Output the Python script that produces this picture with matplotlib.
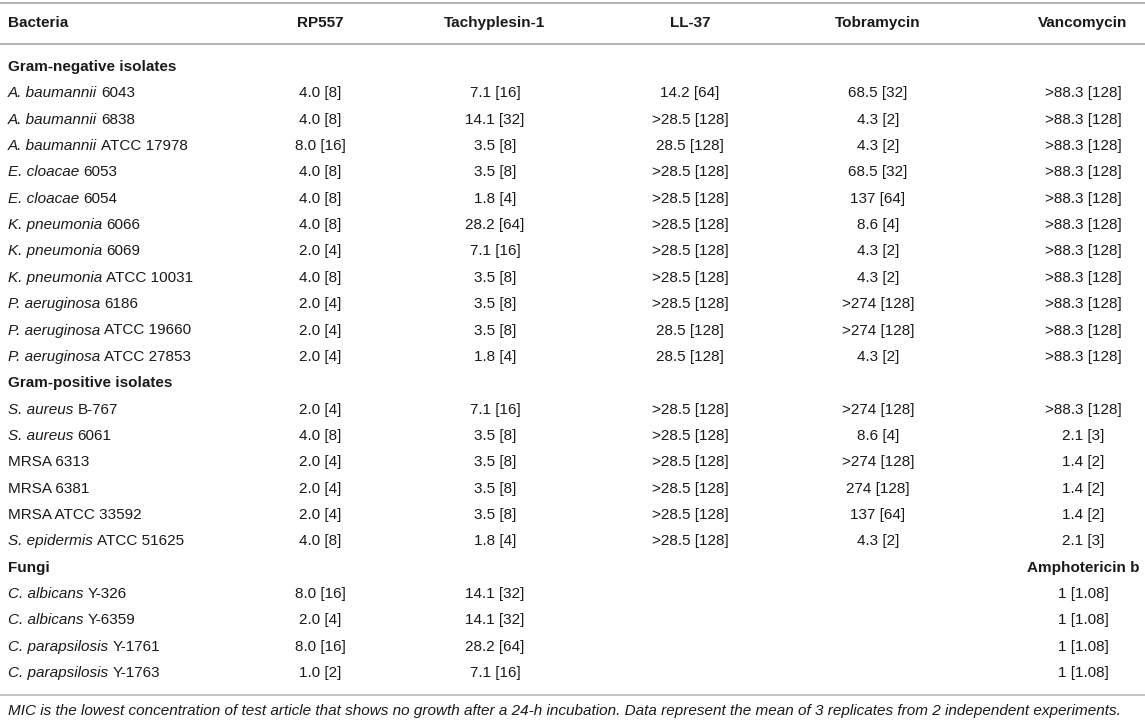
import matplotlib.pyplot as plt

# Column headers of the MIC table
columns = ['Bacteria', 'RP557', 'Tachyplesin-1', 'LL-37', 'Tobramycin', 'Vancomycin']

# Strains: italic species part and plain strain part, grouped
gram_neg_species = ['A. baumannii', 'A. baumannii', 'A. baumannii', 'E. cloacae', 'E. cloacae',
                    'K. pneumonia', 'K. pneumonia', 'K. pneumonia', 'P. aeruginosa',
                    'P. aeruginosa', 'P. aeruginosa']
gram_neg_strain = ['6043', '6838', 'ATCC 17978', '6053', '6054', '6066', '6069', 'ATCC 10031',
                   '6186', 'ATCC 19660', 'ATCC 27853']
gram_neg_rp557 = ['4.0 [8]', '4.0 [8]', '8.0 [16]', '4.0 [8]', '4.0 [8]', '4.0 [8]', '2.0 [4]',
                  '4.0 [8]', '2.0 [4]', '2.0 [4]', '2.0 [4]']
gram_neg_tachy = ['7.1 [16]', '14.1 [32]', '3.5 [8]', '3.5 [8]', '1.8 [4]', '28.2 [64]',
                  '7.1 [16]', '3.5 [8]', '3.5 [8]', '3.5 [8]', '1.8 [4]']
gram_neg_ll37 = ['14.2 [64]', '>28.5 [128]', '28.5 [128]', '>28.5 [128]', '>28.5 [128]',
                 '>28.5 [128]', '>28.5 [128]', '>28.5 [128]', '>28.5 [128]', '28.5 [128]',
                 '28.5 [128]']
gram_neg_tobra = ['68.5 [32]', '4.3 [2]', '4.3 [2]', '68.5 [32]', '137 [64]', '8.6 [4]',
                  '4.3 [2]', '4.3 [2]', '>274 [128]', '>274 [128]', '4.3 [2]']
gram_neg_vanco = ['>88.3 [128]'] * 11

gram_pos_species = ['S. aureus', 'S. aureus', '', '', '', 'S. epidermis']
gram_pos_strain = ['B-767', '6061', 'MRSA 6313', 'MRSA 6381', 'MRSA ATCC 33592', 'ATCC 51625']
gram_pos_rp557 = ['2.0 [4]', '4.0 [8]', '2.0 [4]', '2.0 [4]', '2.0 [4]', '4.0 [8]']
gram_pos_tachy = ['7.1 [16]', '3.5 [8]', '3.5 [8]', '3.5 [8]', '3.5 [8]', '1.8 [4]']
gram_pos_ll37 = ['>28.5 [128]'] * 6
gram_pos_tobra = ['>274 [128]', '8.6 [4]', '>274 [128]', '274 [128]', '137 [64]', '4.3 [2]']
gram_pos_vanco = ['>88.3 [128]', '2.1 [3]', '1.4 [2]', '1.4 [2]', '1.4 [2]', '2.1 [3]']

fungi_species = ['C. albicans', 'C. albicans', 'C. parapsilosis', 'C. parapsilosis']
fungi_strain = ['Y-326', 'Y-6359', 'Y-1761', 'Y-1763']
fungi_rp557 = ['8.0 [16]', '2.0 [4]', '8.0 [16]', '1.0 [2]']
fungi_tachy = ['14.1 [32]', '14.1 [32]', '28.2 [64]', '7.1 [16]']
fungi_ll37 = ['', '', '', '']
fungi_tobra = ['', '', '', '']
fungi_ampho = ['1 [1.08]'] * 4

groups = [
    ('Gram-negative isolates', '', gram_neg_species, gram_neg_strain,
     [gram_neg_rp557, gram_neg_tachy, gram_neg_ll37, gram_neg_tobra, gram_neg_vanco]),
    ('Gram-positive isolates', '', gram_pos_species, gram_pos_strain,
     [gram_pos_rp557, gram_pos_tachy, gram_pos_ll37, gram_pos_tobra, gram_pos_vanco]),
    ('Fungi', 'Amphotericin b', fungi_species, fungi_strain,
     [fungi_rp557, fungi_tachy, fungi_ll37, fungi_tobra, fungi_ampho]),
]

footnote = ('MIC is the lowest concentration of test article that shows no growth after a '
            '24-h incubation. Data represent the mean of 3 replicates from 2 independent experiments.')

W, H = 1145, 724
TEXT = '#1a1a1a'
RULE = '#b4b4b4'
FS = 11
col_x = [320, 495, 690, 878, 1083]
left_x = 8
header_y = 23
first_row_y = 67
row_step = 26.35

plt.rcParams['font.family'] = ['Liberation Sans', 'DejaVu Sans']

fig = plt.figure(figsize=(W / 100, H / 100), dpi=100)
ax = fig.add_axes([0, 0, 1, 1])
ax.set_xlim(0, W)
ax.set_ylim(H, 0)
ax.axis('off')
renderer = fig.canvas.get_renderer()


def name_cell(y: float, species: str, strain: str) -> None:
    """
    Draws a strain name where the species part is italic and the strain id is plain.
    """
    x = left_x
    if species:
        t = ax.text(x, y, species, fontsize=FS, style='italic', color=TEXT, va='center')
        bb = t.get_window_extent(renderer).transformed(ax.transData.inverted())
        x = bb.x1 + 4.2
    ax.text(x, y, strain, fontsize=FS, color=TEXT, va='center')


# Horizontal rules
for ry, lw in [(3, 1.4), (44, 1.4), (695, 1.1)]:
    ax.plot([0, W], [ry, ry], color=RULE, lw=lw, solid_capstyle='butt')

# Header row
ax.text(left_x, header_y, columns[0], fontsize=FS, weight='bold', color=TEXT, va='center')
for cx, name in zip(col_x, columns[1:]):
    ax.text(cx, header_y, name, fontsize=FS, weight='bold', color=TEXT, va='center', ha='center')

row = 0
for title, extra_header, species, strains, values in groups:
    y = first_row_y + row * row_step
    ax.text(left_x, y, title, fontsize=FS, weight='bold', color=TEXT, va='center')
    if extra_header:
        ax.text(col_x[-1], y, extra_header, fontsize=FS, weight='bold', color=TEXT,
                va='center', ha='center')
    row += 1
    for i in range(len(strains)):
        y = first_row_y + row * row_step
        name_cell(y, species[i], strains[i])
        for cx, col in zip(col_x, values):
            if col[i]:
                ax.text(cx, y, col[i], fontsize=FS, color=TEXT, va='center', ha='center')
        row += 1

ax.text(left_x, 711, footnote, fontsize=11, style='italic', color=TEXT, va='center')

fig.savefig('out.png', dpi=100)
